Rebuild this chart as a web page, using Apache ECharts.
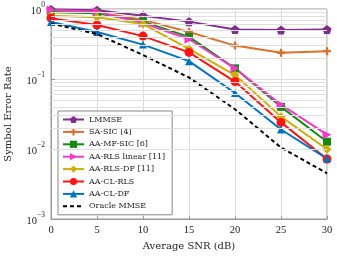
<!DOCTYPE html>
<html><head><meta charset="utf-8">
<script src="https://cdn.jsdelivr.net/npm/echarts@6/dist/echarts.min.js"></script>
<style>html,body{margin:0;padding:0;background:#fff}#c{width:337px;height:257px}</style>
</head><body><div id="c"></div>
<script>
const snr = [0, 5, 10, 15, 20, 25, 30];
const lmmse     = [0.98, 0.96, 0.80, 0.66, 0.51, 0.50, 0.51];
const saSic     = [0.93, 0.89, 0.70, 0.47, 0.30, 0.237, 0.25];
const aaMfSic   = [0.90, 0.87, 0.66, 0.40, 0.142, 0.040, 0.0127];
const aaRlsLin  = [0.97, 0.91, 0.63, 0.37, 0.142, 0.043, 0.016];
const aaRlsDf   = [0.80, 0.76, 0.61, 0.27, 0.114, 0.029, 0.0099];
const aaClRls   = [0.74, 0.59, 0.41, 0.24, 0.092, 0.024, 0.0072];
const aaClDf    = [0.65, 0.47, 0.31, 0.18, 0.063, 0.019, 0.0073];
const oracle    = [0.62, 0.44, 0.22, 0.105, 0.037, 0.0105, 0.0045];
const names = ['LMMSE','SA-SIC [4]','AA-MF-SIC [6]','AA-RLS linear [11]','AA-RLS-DF [11]','AA-CL-RLS','AA-CL-DF','Oracle MMSE'];
const xTicks = [0, 5, 10, 15, 20, 25, 30];

const TFONT = 'Liberation Serif';
const NFONT = 'DejaVu Serif';
const pentagon = 'path://M0,-1 L0.951,-0.309 L0.588,0.809 L-0.588,0.809 L-0.951,-0.309 Z';
const plus = 'path://M-0.3,-1 L0.3,-1 L0.3,-0.3 L1,-0.3 L1,0.3 L0.3,0.3 L0.3,1 L-0.3,1 L-0.3,0.3 L-1,0.3 L-1,-0.3 L-0.3,-0.3 Z';
const rtri = 'path://M1,0 L-0.75,0.95 L-0.75,-0.95 Z';

function pairs(arr){ return snr.map((x,i)=>[x, arr[i]]); }
function mk(name, data, color, symbol, size){
  return {name, type:'line', data:pairs(data), symbol, symbolSize:size,
    lineStyle:{color, width:2}, itemStyle:{color}, z:3};
}
const minorLines = [];
for (let e=-3; e<0; e++) for (let m=2; m<=9; m++) minorLines.push({yAxis: m*Math.pow(10,e)});

const chart = echarts.init(document.getElementById('c'), null, {renderer:'canvas'});
chart.setOption({
  animation:false,
  textStyle:{fontFamily:NFONT},
  grid:{left:51, right:10, top:9, bottom:38, show:true, borderColor:'#999', borderWidth:1,
    containLabel:false, outerBoundsMode:'none'},
  legend:{orient:'vertical', left:58, top:111, itemWidth:21, itemHeight:9, itemGap:3.4,
    padding:[4,7,4,4], borderColor:'#888', borderWidth:1, backgroundColor:'#fff',
    textStyle:{fontFamily:NFONT, fontSize:8, color:'#222', lineHeight:9},
    data:names.map((n,i)=> i===7 ? {name:n, itemStyle:{opacity:0}} : n)},
  xAxis:{type:'value', min:0, max:30, interval:5,
    name:'Average SNR (dB)', nameLocation:'middle', nameGap:22,
    nameTextStyle:{fontFamily:NFONT, fontSize:10, color:'#222'},
    axisLine:{lineStyle:{color:'#999'}}, axisTick:{inside:true, length:3, lineStyle:{color:'#999'}},
    axisLabel:{fontFamily:TFONT, fontSize:10.5, color:'#222', margin:6,
      formatter:v=>xTicks.includes(v)?String(v):''},
    splitLine:{show:true, lineStyle:{color:'#dcdcdc'}}},
  yAxis:{type:'log', logBase:10, min:0.001, max:1,
    name:'Symbol Error Rate', nameLocation:'middle', nameGap:38,
    nameTextStyle:{fontFamily:NFONT, fontSize:10, color:'#222'},
    axisLine:{lineStyle:{color:'#999'}}, axisTick:{inside:true, length:4, lineStyle:{color:'#999'}},
    axisLabel:{fontFamily:TFONT, margin:6, color:'#222',
      formatter:v=>{const e=Math.round(Math.log10(v)); return '{b|10}{s|'+(e===0?'0':'\u2212'+(-e))+'}';},
      rich:{b:{fontSize:10.5, fontFamily:TFONT, color:'#222', verticalAlign:'bottom', lineHeight:16},
            s:{fontSize:7.5, fontFamily:TFONT, color:'#222', verticalAlign:'top', lineHeight:16}}},
    splitLine:{show:true, lineStyle:{color:'#dcdcdc'}}},
  series:[
    {name:'_minor', type:'line', data:[], silent:true, legendHoverLink:false,
      markLine:{silent:true, symbol:'none', label:{show:false}, animation:false,
        lineStyle:{color:'#e0e0e0', width:1, type:'solid'}, data:minorLines}, z:1},
    mk(names[0], lmmse, '#7E2F8E', pentagon, 9),
    mk(names[1], saSic, '#D9712F', plus, 8),
    mk(names[2], aaMfSic, '#138A13', 'rect', 8),
    mk(names[3], aaRlsLin, '#EF3BC6', rtri, 9),
    mk(names[4], aaRlsDf, '#CBB000', 'diamond', 9),
    mk(names[5], aaClRls, '#FF1414', 'circle', 9),
    mk(names[6], aaClDf, '#0072BD', 'triangle', 8),
    {name:names[7], type:'line', data:pairs(oracle), symbol:'none',
      lineStyle:{color:'#000', width:2, type:[4,3]}, itemStyle:{color:'#000'}, z:4}
  ]
});
</script></body></html>
